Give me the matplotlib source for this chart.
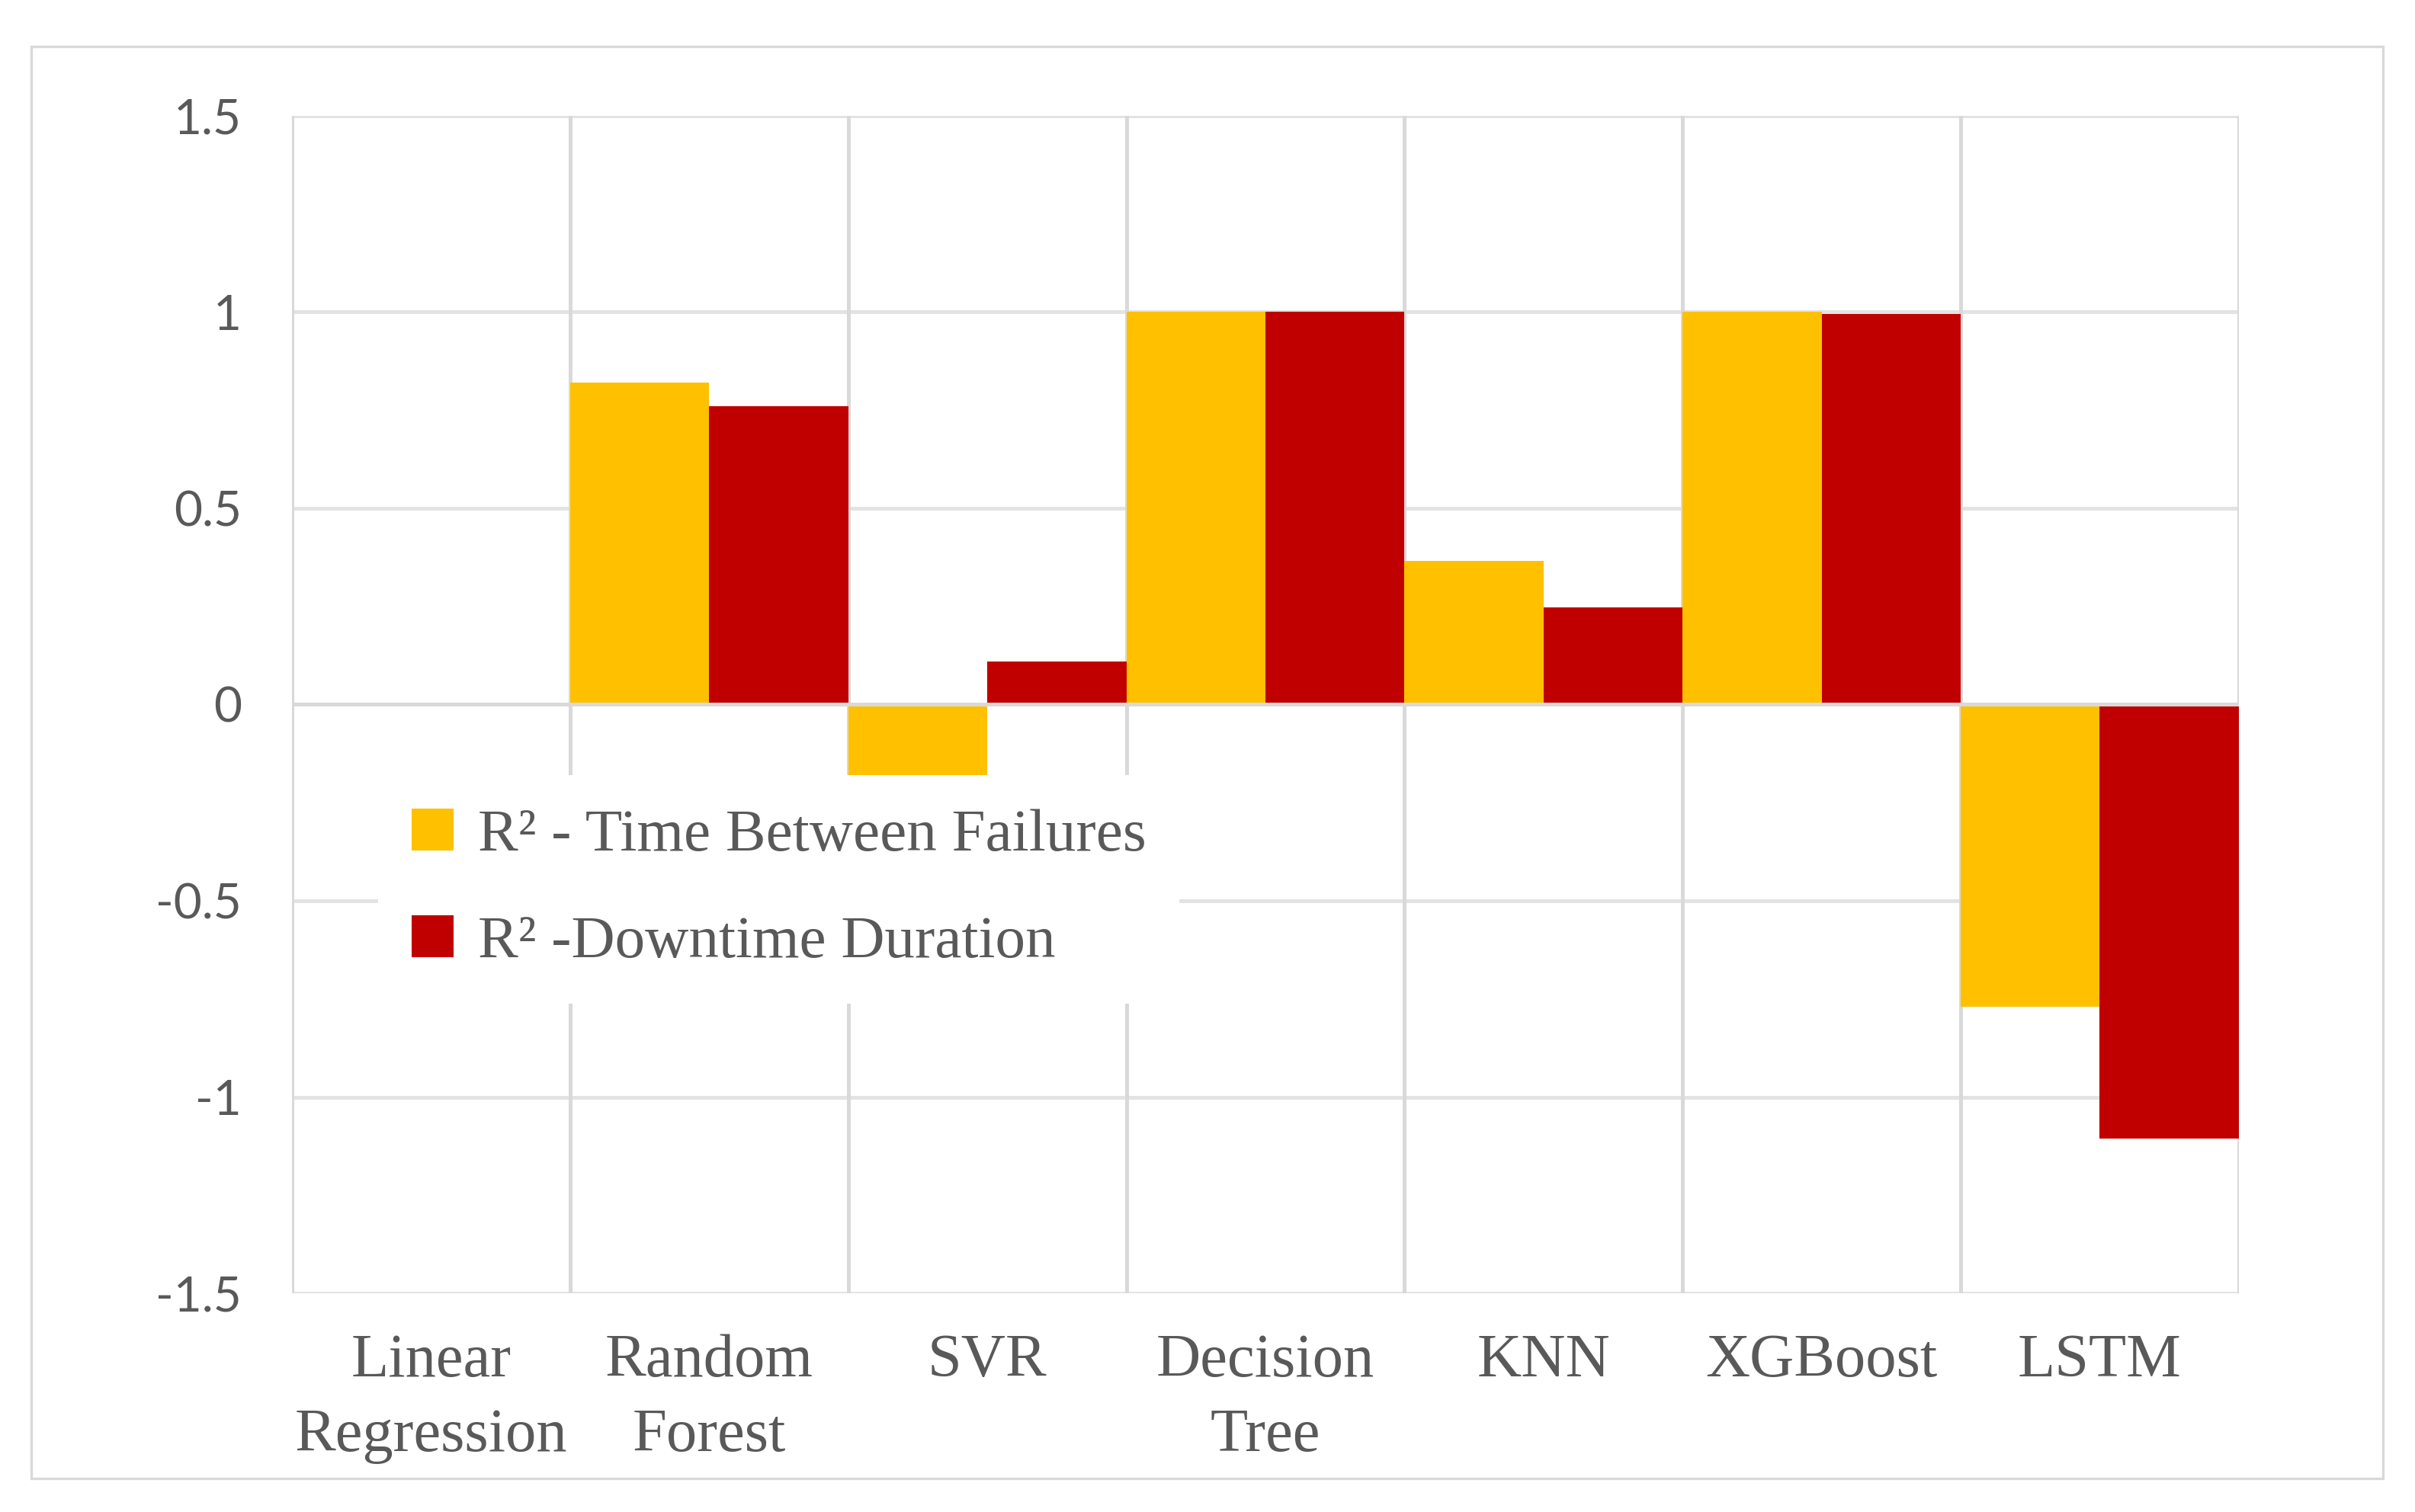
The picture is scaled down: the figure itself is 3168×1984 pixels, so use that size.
import numpy as np
import matplotlib
matplotlib.use('Agg')
import matplotlib.pyplot as plt
from matplotlib.patches import Rectangle

models = ['Linear\nRegression', 'Random\nForest', 'SVR', 'Decision\nTree',
          'KNN', 'XGBoost', 'LSTM']
r2_tbf = [0.0, 0.82, -0.20, 1.0, 0.365, 1.0, -0.77]
r2_dd = [0.0, 0.76, 0.11, 1.0, 0.248, 0.995, -1.105]
y_ticks = [-1.5, -1, -0.5, 0, 0.5, 1, 1.5]
y_labels = ['-1.5', '-1', '-0.5', '0', '0.5', '1', '1.5']

YELLOW = '#FFC000'
RED = '#C00000'
GRID_V = '#D9D9D9'
GRID_H = '#E3E3E3'
TXT = '#595959'
SERIF = ['Liberation Serif', 'DejaVu Serif']

fig = plt.figure(figsize=(15.84, 9.92), dpi=200)
# outer chart frame
fig.patches.append(Rectangle((0.0128, 0.0224), 0.974, 0.947, transform=fig.transFigure,
                             fill=False, edgecolor=GRID_V, linewidth=1.2))

ax = fig.add_axes([0.121, 0.1446, 0.806, 0.779])
x = np.arange(len(models))
w = 0.5
ax.bar(x - w / 2, r2_tbf, width=w, color=YELLOW, zorder=3,
       label='R² - Time Between Failures')
ax.bar(x + w / 2, r2_dd, width=w, color=RED, zorder=3,
       label='R² -Downtime Duration')

ax.set_xlim(-0.5, len(models) - 0.5)
ax.set_ylim(-1.5, 1.5)

# gridlines
for yv in y_ticks:
    if yv == 0:
        continue
    ax.axhline(yv, color=GRID_H, linewidth=1.8, zorder=1)
ax.axhline(0, color=GRID_V, linewidth=1.8, zorder=4)
for xv in np.arange(-0.5, len(models), 1.0):
    ax.axvline(xv, color=GRID_V, linewidth=1.8, zorder=1)

for s in ax.spines.values():
    s.set_visible(False)

ax.set_yticks(y_ticks)
ax.set_yticklabels(y_labels, fontfamily='Lato', fontsize=23, color=TXT)
ax.set_xticks(x)
ax.set_xticklabels(models, fontfamily=SERIF, fontsize=29, color=TXT, linespacing=1.45)
ax.tick_params(axis='both', length=0)
ax.tick_params(axis='y', pad=24)
ax.tick_params(axis='x', pad=19)

leg = ax.legend(loc='center', bbox_to_anchor=(0.25, 0.343), frameon=True,
                facecolor='white', edgecolor='none', framealpha=1,
                prop={'family': SERIF, 'size': 28.5}, handlelength=0.7,
                handleheight=0.7, handletextpad=0.4, labelspacing=0.85,
                borderpad=0.55, fancybox=False, labelcolor=TXT)
leg.set_zorder(5)

fig.savefig('out.png', dpi=200, facecolor='white')
